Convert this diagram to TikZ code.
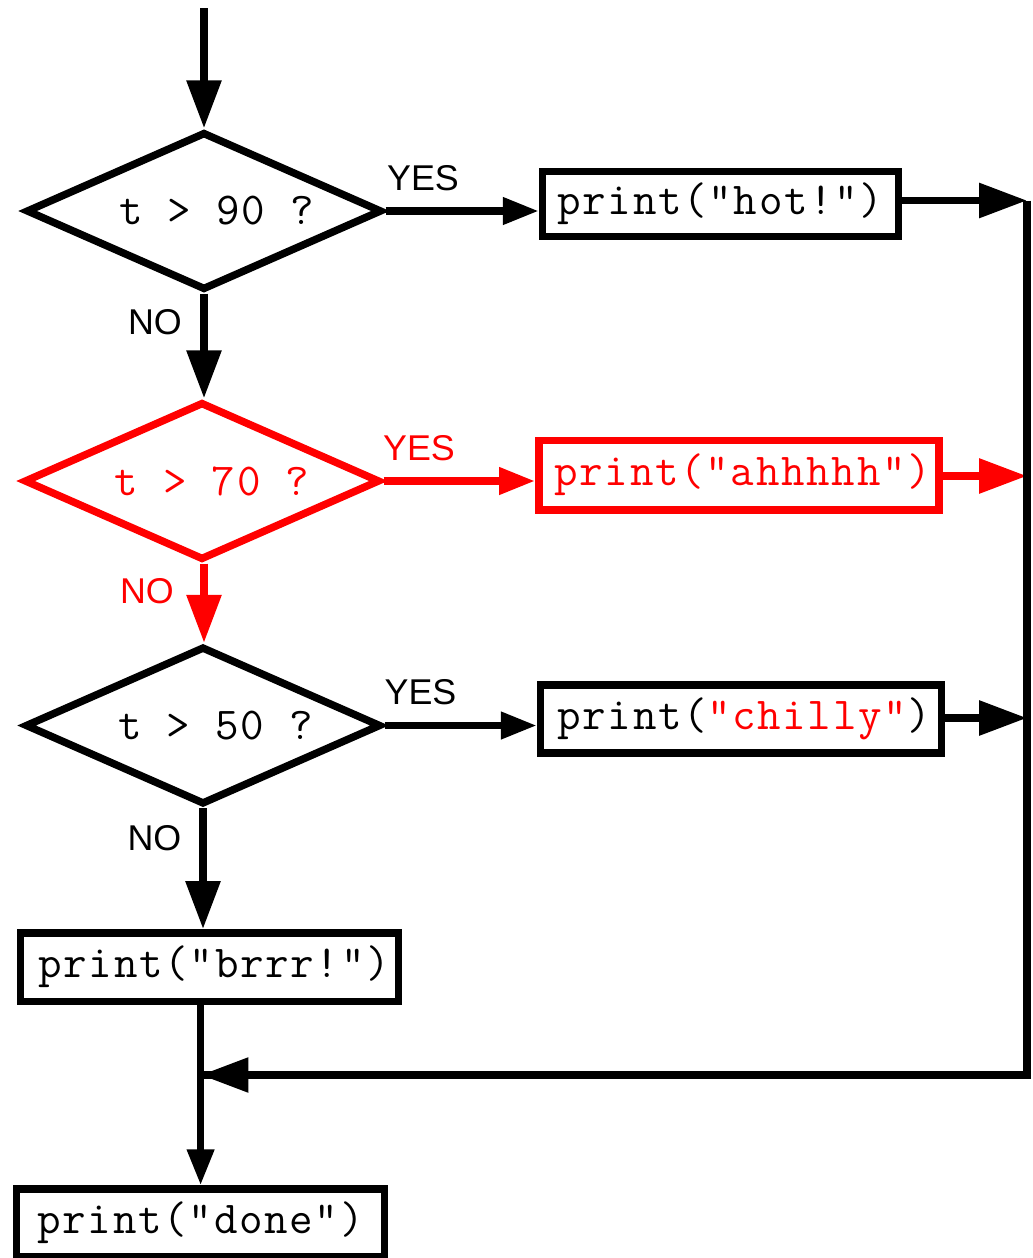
\documentclass[tikz,border=0pt]{standalone}
\usepackage{fontspec}
\newfontfamily\codefont{Latin Modern Mono}[LetterSpace=3.7]
\newfontfamily\labfont{Liberation Sans}
\usetikzlibrary{shapes.geometric,arrows.meta}
\tikzset{
  lw/.style={line width=0.15cm},
  bigtip/.style={-{Triangle[length=27.2pt,width=19pt]}},
  smalltip/.style={-{Triangle[length=20.4pt,width=14.7pt]}},
  decision/.style={draw,lw,diamond,shape aspect=2.25,inner sep=0pt,minimum width=7.12cm,minimum height=3.16cm,
    font=\codefont\fontsize{26}{30}\selectfont},
  procbox/.style={draw,lw,rectangle,inner sep=0pt,line join=miter,
    font=\codefont\fontsize{26}{30}\selectfont},
  lab/.style={inner sep=0pt,font=\labfont\fontsize{20.4}{24}\selectfont},
  conn/.style={lw,line join=miter},
}
\begin{document}
\begin{tikzpicture}[x=0.02cm,y=-0.02cm]
\useasboundingbox (0,0) rectangle (1032,1258);
% decisions
\node[decision] (d1) at (204,211) {\hspace*{0.5cm}t > 90 ?};
\node[decision,red] (d2) at (202,481) {\hspace*{0.4cm}t > 70 ?};
\node[decision] (d3) at (203,725.5) {\hspace*{0.5cm}t > 50 ?};
% boxes
\node[procbox,minimum width=7.12cm,minimum height=1.30cm] (b1) at (720.5,204) {print("hot!")};
\node[procbox,red,minimum width=8.01cm,minimum height=1.39cm] (b2) at (739,475) {\hspace*{0.15cm}print("ahhhhh")};
\node[procbox,minimum width=8.02cm,minimum height=1.36cm] (b3) at (741,719) {\hspace*{0.12cm}print(\textcolor{red}{"chilly"})};
\node[procbox,minimum width=7.56cm,minimum height=1.37cm] (b4) at (209.7,967) {\hspace*{0.18cm}print("brrr!")};
\node[procbox,minimum width=7.36cm,minimum height=1.36cm] (b5) at (200.6,1223) {print("done")};
% labels
\node[lab] (y1) at (423,178) {YES};
\node[lab] (n1) at (155,322.5) {NO};
\node[lab,red] (y2) at (419,448) {YES};
\node[lab,red] (n2) at (147,591.5) {NO};
\node[lab] (y3) at (420.5,692) {YES};
\node[lab] (n3) at (154.5,838) {NO};
% coordinates
\coordinate (start) at (204,8);
\coordinate (r1) at (1027,200.5);
\coordinate (r2) at (1027,476);
\coordinate (r3) at (1027,718);
\coordinate (rb) at (1027,1075);
\coordinate (lb) at (200.6,1075);
% connectors
\draw[conn,bigtip] (start) -- (d1.north);
\draw[conn,smalltip] (d1.east) -- (d1.east -| b1.west);
\draw[conn,bigtip] (b1.east |- r1) -- (r1);
\draw[conn,bigtip] (d1.south) -- (d2.north -| d1.south);
\draw[conn,red,smalltip] (d2.east) -- (d2.east -| b2.west);
\draw[conn,red,bigtip] (b2.east |- r2) -- (r2);
\draw[conn,red,bigtip] ([xshift=0.04cm]d2.south) -- ([xshift=0.04cm]d2.south |- d3.north);
\draw[conn,smalltip] (d3.east) -- (d3.east -| b3.west);
\draw[conn,bigtip] (b3.east |- r3) -- (r3);
\draw[conn,bigtip] (d3.south) -- (d3.south |- b4.north);
\draw[conn] (r1) -- (rb) -- (lb);
\draw[conn,bigtip] (rb) -- (lb);
\draw[conn,smalltip] (b5.north |- b4.south) -- (b5.north);
\end{tikzpicture}
\end{document}
